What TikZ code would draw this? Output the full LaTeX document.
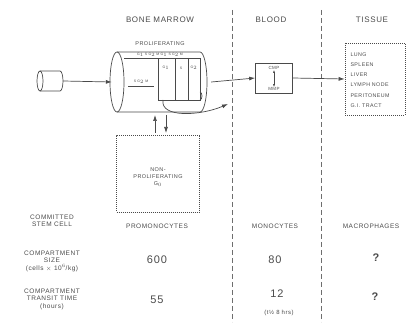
\documentclass[tikz,border=0pt]{standalone}
\usepackage{fontspec}
\setmainfont{Liberation Sans}[LetterSpace=8]
\usetikzlibrary{arrows.meta}
\definecolor{ink}{HTML}{4A4A4A}
\tikzset{
  ln/.style={draw=ink, line width=0.7pt},
  dln/.style={draw=ink, line width=0.7pt, dash pattern=on 1pt off 1pt},
  vdash/.style={draw=ink!80, line width=1pt, dash pattern=on 5pt off 3pt},
  arr/.style={ln, -{Latex[length=6pt,width=4pt]}},
  head/.style={text=ink, font=\fontsize{8}{9}\selectfont},
  lbl/.style={text=ink, font=\fontsize{6.5}{7.5}\selectfont, align=center},
  big/.style={text=ink, font=\fontsize{11}{12}\selectfont, inner sep=1pt},
  tiny/.style={text=ink, font=\fontsize{3.5}{4}\selectfont, inner sep=0pt},
}
\begin{document}
\begin{tikzpicture}[x=1pt,y=-1pt]
\useasboundingbox (0,0) rectangle (410,323);
% headings
\node[head] (hbm) at (160,20) {BONE MARROW};
\node[head] (hbl) at (271,20) {BLOOD};
\node[head] (hti) at (372,20) {TISSUE};
% dashed separators
\coordinate (d1a) at (232,10); \coordinate (d1b) at (232,322);
\coordinate (d2a) at (321,10); \coordinate (d2b) at (321,322);
\draw[vdash] (d1a) -- (d1b);
\draw[vdash] (d2a) -- (d2b);
% small cylinder (committed stem cell)
\draw[ln] (40,71) -- (60,71) arc[start angle=90,end angle=-90,x radius=3pt,y radius=10pt] -- (40,91);
\draw[ln] (40,81) ellipse[x radius=3pt,y radius=10pt];
\node[inner sep=0pt, minimum width=26pt, minimum height=22pt] (stem) at (50,81) {};
% big cylinder (proliferating)
\node[lbl, font=\fontsize{5.5}{6.5}\selectfont] (prolab) at (160,44) {PROLIFERATING};
\draw[ln] (117,52) -- (200,52) arc[start angle=90,end angle=-90,x radius=7pt,y radius=30pt] -- (117,112);
\draw[ln] (117,82) ellipse[x radius=7pt,y radius=30pt];
\node[inner sep=0pt, minimum width=96pt, minimum height=60pt] (cyl) at (160,82) {};
\draw[ln] (124,58) -- (200,58);
\draw[ln] (158,58) rectangle (200,100);
\draw[ln] (175,58) -- (175,100);
\draw[ln] (188,58) -- (188,100);
\draw[ln] (200,92) arc[start angle=90,end angle=-90,x radius=2pt,y radius=4pt];
\node[tiny] (t1) at (160,55) {G$_1$ S G$_2$ M G$_1$ S G$_2$ M};
\node[tiny] (t2) at (141,82) {S G$_2$ M};
\draw[ln] (128,86) -- (154,86);
\node[tiny] (t3) at (166,68) {G$_1$};
\node[tiny] (t4) at (181,68) {S};
\node[tiny] (t5) at (194,68) {G$_2$};
\coordinate (cb) at (163,100);
\coordinate (ce) at (228,104);
\draw[arr] (cb) .. controls (160,118) and (200,116) .. (ce);
% non-proliferating box
\node[dln, minimum width=83pt, minimum height=77pt, inner sep=0pt] (g0) at (158,174) {};
\node[lbl, font=\fontsize{5.5}{7}\selectfont] (g0t) at (158,177) {NON-\\PROLIFERATING\\G$_0$};
\coordinate (u1) at (155,133); \coordinate (u2) at (155,115);
\coordinate (v1) at (166,115); \coordinate (v2) at (166,133);
\draw[arr] (u1) -- (u2);
\draw[arr] (v1) -- (v2);
% blood box
\node[ln, minimum width=37pt, minimum height=30pt, inner sep=0pt] (bl) at (274,78) {};
\node[tiny, font=\fontsize{4.5}{5}\selectfont] (cmp) at (274,68) {CMP};
\node[tiny, font=\fontsize{4.5}{5}\selectfont] (mmp) at (274,89) {MMP};
\draw[ln, {Latex[length=3pt,width=2pt]}-{Latex[length=3pt,width=2pt]}] (cmp) -- (mmp);
% tissue box
\node[dln, minimum width=60pt, minimum height=72pt, inner sep=0pt] (ti) at (375,79) {};
\node[lbl, align=left, font=\fontsize{5.3}{10.2}\selectfont, anchor=north west] (tit) at (347,49) {LUNG\\SPLEEN\\LIVER\\LYMPH NODE\\PERITONEUM\\G.I. TRACT};
% main arrows
\draw[arr] (stem.east) -- (cyl.west);
\draw[arr] (cyl.east) ++(3,0) -- (bl.west);
\draw[arr] (bl.east) -- (ti.west);
% table
\node[lbl] (r1) at (52,221) {COMMITTED\\STEM CELL};
\node[lbl] (c1) at (157,226) {PROMONOCYTES};
\node[lbl] (c2) at (275,226) {MONOCYTES};
\node[lbl] (c3) at (371,226) {MACROPHAGES};
\node[lbl] (r2) at (52,261) {COMPARTMENT\\SIZE\\(cells $\times$ 10$^6$/kg)};
\node[big] (s1) at (157,260) {600};
\node[big] (s2) at (275,260) {80};
\node[big, font=\fontsize{11}{12}\bfseries] (s3) at (376,258) {?};
\node[lbl] (r3) at (52,299) {COMPARTMENT\\TRANSIT TIME\\(hours)};
\node[big] (tt1) at (157,300) {55};
\node[big] (tt2) at (277,294) {12};
\node[lbl, inner sep=0.5pt, font=\fontsize{6}{7}\selectfont] (tt2b) at (279,313) {(t½ 8 hrs)};
\node[big, font=\fontsize{11}{12}\bfseries] (tt3) at (375,297) {?};
\end{tikzpicture}
\end{document}
